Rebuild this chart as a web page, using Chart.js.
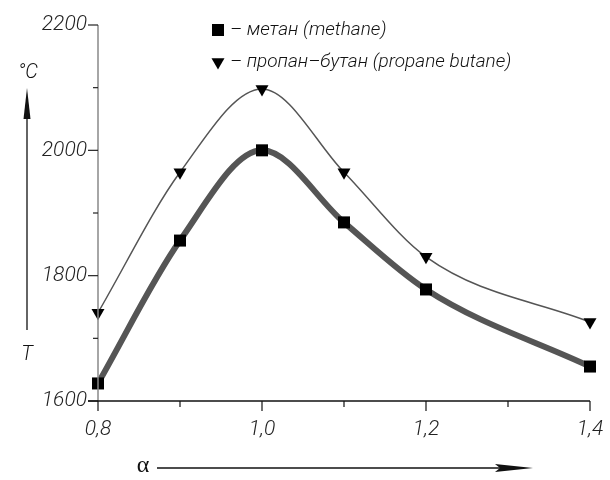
<!DOCTYPE html>
<html>
<head>
<meta charset="utf-8">
<script src="https://cdn.jsdelivr.net/npm/chart.js@4/dist/chart.umd.min.js"></script>
<style>
  html, body { margin: 0; padding: 0; background: #fff; }
  #wrap { width: 610px; height: 480px; }
</style>
</head>
<body>
<div id="wrap"><canvas id="myChart" width="610" height="480"></canvas></div>
<script>
// excess air ratio alpha vs flame temperature, C
const alpha = [0.8, 0.9, 1.0, 1.1, 1.2, 1.4];
const methane = [1628, 1856, 2000, 1885, 1778, 1655];
const propaneButane = [1741, 1965, 2098, 1965, 1830, 1726];
const seriesLabels = ["– метан (methane)", "– пропан–бутан (propane butane)"];

const xTickValues = [0.8, 1.0, 1.2, 1.4];
const xTickLabels = ["0,8", "1,0", "1,2", "1,4"];
const xMinorTicks = [0.9, 1.1, 1.3];
const yTickValues = [1600, 1800, 2000, 2200];
const yMinorTicks = [1700, 1900, 2100];

const FAMILY = "Roboto, 'Liberation Sans Narrow', 'DejaVu Sans Condensed', sans-serif";
const FONT = "italic 300 19px " + FAMILY;

// axes, ticks, legend and arrows are drawn by hand to look like the drawing
const decorations = {
  id: "decorations",
  afterDraw(chart) {
    const ctx = chart.ctx;
    const x = chart.scales.x;
    const y = chart.scales.y;
    const left = x.getPixelForValue(alpha[0]);
    const bottom = y.getPixelForValue(yTickValues[0]);
    ctx.save();

    // y axis
    ctx.strokeStyle = "#888";
    ctx.lineWidth = 1.5;
    ctx.beginPath();
    ctx.moveTo(left, y.getPixelForValue(yTickValues[yTickValues.length - 1]));
    ctx.lineTo(left, bottom);
    ctx.stroke();
    ctx.strokeStyle = "#222";
    ctx.lineWidth = 1.2;
    yTickValues.forEach(v => {
      const py = y.getPixelForValue(v);
      ctx.beginPath(); ctx.moveTo(left - 10, py); ctx.lineTo(left, py); ctx.stroke();
    });
    yMinorTicks.forEach(v => {
      const py = y.getPixelForValue(v);
      ctx.beginPath(); ctx.moveTo(left - 5, py); ctx.lineTo(left, py); ctx.stroke();
    });

    // x axis
    ctx.strokeStyle = "#111";
    ctx.lineWidth = 1.5;
    ctx.beginPath();
    ctx.moveTo(left - 10, bottom);
    ctx.lineTo(x.getPixelForValue(xTickValues[xTickValues.length - 1]), bottom);
    ctx.stroke();
    ctx.lineWidth = 1.2;
    xTickValues.forEach(v => {
      const px = x.getPixelForValue(v);
      ctx.beginPath(); ctx.moveTo(px, bottom); ctx.lineTo(px, bottom + 10); ctx.stroke();
    });
    xMinorTicks.forEach(v => {
      const px = x.getPixelForValue(v);
      ctx.beginPath(); ctx.moveTo(px, bottom); ctx.lineTo(px, bottom + 6); ctx.stroke();
    });

    // legend
    ctx.font = FONT;
    ctx.textBaseline = "middle";
    ctx.textAlign = "left";
    chart.data.datasets.forEach((ds, i) => {
      const ly = 30 + i * 32;
      ctx.fillStyle = "#000";
      Chart.helpers.drawPoint(ctx, {
        pointStyle: ds.pointStyle, radius: ds.pointRadius,
        rotation: ds.pointRotation || 0, borderWidth: 0
      }, 218, ly);
      ctx.fillStyle = "#111";
      ctx.fillText(ds.label, 230, ly);
    });

    // T arrow on the left
    ctx.strokeStyle = "#111";
    ctx.fillStyle = "#111";
    ctx.lineWidth = 1.3;
    ctx.beginPath(); ctx.moveTo(27, 330); ctx.lineTo(27, 110); ctx.stroke();
    ctx.beginPath(); ctx.moveTo(27, 88); ctx.lineTo(23.5, 119); ctx.lineTo(30.5, 119); ctx.closePath(); ctx.fill();
    ctx.textAlign = "center";
    ctx.font = "italic 300 20px " + FAMILY;
    ctx.fillText("°C", 28, 73);
    ctx.fillText("T", 27, 355);

    // alpha arrow at the bottom
    ctx.beginPath(); ctx.moveTo(157, 468); ctx.lineTo(505, 468); ctx.stroke();
    ctx.beginPath(); ctx.moveTo(533, 468); ctx.lineTo(495, 464); ctx.lineTo(500, 468); ctx.lineTo(495, 472); ctx.closePath(); ctx.fill();
    ctx.font = "24px 'Liberation Serif', serif";
    ctx.fillText("α", 143, 466);

    ctx.restore();
  }
};

new Chart(document.getElementById("myChart"), {
  type: "line",
  data: {
    datasets: [
      {
        label: seriesLabels[0],
        data: alpha.map((a, i) => ({ x: a, y: methane[i] })),
        borderColor: "#555",
        borderWidth: 6,
        pointStyle: "rect",
        pointRadius: 8.5,
        pointBackgroundColor: "#000",
        pointBorderWidth: 0,
        cubicInterpolationMode: "monotone",
        clip: false
      },
      {
        label: seriesLabels[1],
        data: alpha.map((a, i) => ({ x: a, y: propaneButane[i] })),
        borderColor: "#555",
        borderWidth: 1.5,
        pointStyle: "triangle",
        pointRotation: 180,
        pointRadius: 7.5,
        pointBackgroundColor: "#000",
        pointBorderWidth: 0,
        cubicInterpolationMode: "monotone",
        clip: false
      }
    ]
  },
  options: {
    responsive: false,
    animation: false,
    layout: { padding: { top: 25, right: 20, left: 0, bottom: 0 } },
    plugins: { legend: { display: false }, tooltip: { enabled: false } },
    scales: {
      x: {
        type: "linear",
        min: 0.8,
        max: 1.4,
        grid: { display: false, drawTicks: false },
        border: { display: false },
        afterBuildTicks: s => { s.ticks = xTickValues.map(v => ({ value: v })); },
        afterFit: s => { s.height = 79; s.paddingLeft = 0; s.paddingRight = 0; },
        ticks: {
          padding: 16,
          color: "#222",
          font: { family: FAMILY, size: 21, style: "italic", weight: 300 },
          callback: v => xTickLabels[xTickValues.indexOf(v)]
        }
      },
      y: {
        min: 1600,
        max: 2200,
        grid: { display: false, drawTicks: false },
        border: { display: false },
        afterBuildTicks: s => { s.ticks = yTickValues.map(v => ({ value: v })); },
        afterFit: s => { s.width = 98; s.paddingTop = 0; s.paddingBottom = 0; },
        ticks: {
          padding: 11,
          color: "#222",
          font: { family: FAMILY, size: 21, style: "italic", weight: 300 },
          callback: v => String(v)
        }
      }
    }
  },
  plugins: [decorations]
});
</script>
</body>
</html>
